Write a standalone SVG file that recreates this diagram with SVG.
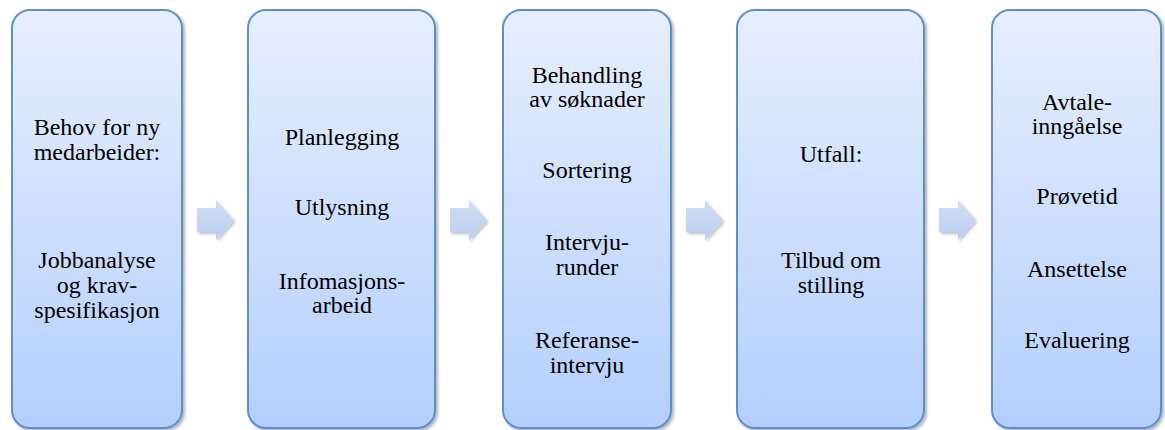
<svg xmlns="http://www.w3.org/2000/svg" width="1165" height="430" viewBox="0 0 1165 430">
  <defs>
    <linearGradient id="boxFill" x1="0" y1="0" x2="0" y2="1">
      <stop offset="0" stop-color="#e7effd"/>
      <stop offset="1" stop-color="#b4cffd"/>
    </linearGradient>
    <linearGradient id="arrFill" x1="0" y1="0" x2="0" y2="1">
      <stop offset="0" stop-color="#d0def5"/>
      <stop offset="1" stop-color="#bccff0"/>
    </linearGradient>
    <filter id="shadow" x="-20%" y="-10%" width="140%" height="120%">
      <feDropShadow dx="2" dy="2" stdDeviation="1.6" flood-color="#000" flood-opacity="0.3"/>
    </filter>
    <filter id="ashadow" x="-30%" y="-30%" width="160%" height="160%">
      <feDropShadow dx="1.5" dy="2" stdDeviation="1.5" flood-color="#000" flood-opacity="0.25"/>
    </filter>
    <path id="arrow" d="M0,8 H19 V0 L37,20 L19,40 V32 H0 Z"/>
  </defs>
  <style>
    .box { fill: url(#boxFill); stroke: #5d8fca; stroke-width: 2; filter: url(#shadow); }
    .arr { fill: url(#arrFill); filter: url(#ashadow); }
    .t { font-family: "Liberation Serif", "DejaVu Serif", serif; font-size: 24px; fill: #000; text-anchor: middle; }
  </style>

  <g id="connectors">
    <use href="#arrow" class="arr" x="197" y="200"/>
    <use href="#arrow" class="arr" x="450" y="200"/>
    <use href="#arrow" class="arr" x="686" y="200"/>
    <use href="#arrow" class="arr" x="939" y="200"/>
  </g>

  <g id="node1">
    <rect class="box" x="12" y="10" width="170" height="418" rx="18"/>
    <text class="t" x="97" y="135">Behov for ny</text>
    <text class="t" x="97" y="160">medarbeider:</text>
    <text class="t" x="97" y="268">Jobbanalyse</text>
    <text class="t" x="97" y="293">og krav-</text>
    <text class="t" x="97" y="318">spesifikasjon</text>
  </g>

  <g id="node2">
    <rect class="box" x="248" y="10" width="187" height="418" rx="18"/>
    <text class="t" x="342" y="145">Planlegging</text>
    <text class="t" x="342" y="215">Utlysning</text>
    <text class="t" x="342" y="289">Infomasjons-</text>
    <text class="t" x="342" y="313">arbeid</text>
  </g>

  <g id="node3">
    <rect class="box" x="503" y="10" width="168" height="418" rx="18"/>
    <text class="t" x="587" y="83">Behandling</text>
    <text class="t" x="587" y="107">av søknader</text>
    <text class="t" x="587" y="178">Sortering</text>
    <text class="t" x="587" y="250">Intervju-</text>
    <text class="t" x="587" y="275">runder</text>
    <text class="t" x="587" y="348">Referanse-</text>
    <text class="t" x="587" y="373">intervju</text>
  </g>

  <g id="node4">
    <rect class="box" x="737" y="10" width="187" height="418" rx="18"/>
    <text class="t" x="831" y="162">Utfall:</text>
    <text class="t" x="831" y="268">Tilbud om</text>
    <text class="t" x="831" y="293">stilling</text>
  </g>

  <g id="node5">
    <rect class="box" x="992" y="10" width="169" height="418" rx="18"/>
    <text class="t" x="1077" y="110">Avtale-</text>
    <text class="t" x="1077" y="134">inngåelse</text>
    <text class="t" x="1077" y="204">Prøvetid</text>
    <text class="t" x="1077" y="277">Ansettelse</text>
    <text class="t" x="1077" y="348">Evaluering</text>
  </g>
</svg>
